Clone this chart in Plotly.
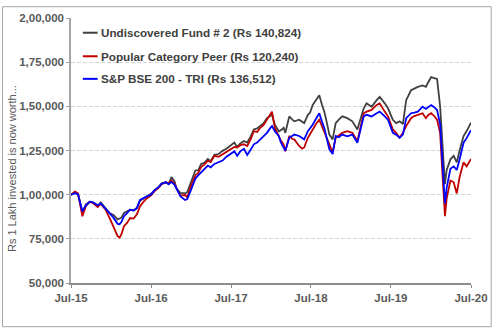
import plotly.graph_objects as go

# Observation dates (shared by all three series)
dates = [
    "2015-07-01", "2015-07-19", "2015-08-02", "2015-08-17", "2015-08-22", "2015-09-07",
    "2015-09-25", "2015-10-12", "2015-10-31", "2015-11-14", "2015-12-06", "2015-12-24",
    "2016-01-11", "2016-01-30", "2016-02-08", "2016-02-16", "2016-02-28", "2016-03-13",
    "2016-03-27", "2016-04-12", "2016-04-27", "2016-05-11", "2016-05-24", "2016-06-12",
    "2016-06-30", "2016-07-17", "2016-08-05", "2016-08-18", "2016-09-06", "2016-09-19",
    "2016-10-02", "2016-10-16", "2016-10-25", "2016-11-12", "2016-12-03", "2016-12-13",
    "2016-12-27", "2017-01-19", "2017-02-02", "2017-02-14", "2017-03-01", "2017-03-17",
    "2017-03-30", "2017-04-16", "2017-05-05", "2017-05-23", "2017-06-10", "2017-06-28",
    "2017-07-16", "2017-07-29", "2017-08-12", "2017-08-29", "2017-09-13", "2017-09-29",
    "2017-10-13", "2017-10-28", "2017-11-11", "2017-11-27", "2017-12-12", "2017-12-26",
    "2018-01-04", "2018-01-17", "2018-02-04", "2018-02-14", "2018-02-26", "2018-03-06",
    "2018-03-24", "2018-04-07", "2018-04-16", "2018-05-08", "2018-05-22", "2018-05-31",
    "2018-06-17", "2018-06-27", "2018-07-09", "2018-07-24", "2018-08-08", "2018-08-20",
    "2018-08-31", "2018-09-12", "2018-09-23", "2018-10-08", "2018-10-22", "2018-11-05",
    "2018-11-21", "2018-12-14", "2019-01-06", "2019-01-29", "2019-02-12", "2019-02-27",
    "2019-03-12", "2019-04-04", "2019-04-27", "2019-05-11", "2019-06-03", "2019-06-18",
    "2019-07-10", "2019-07-25", "2019-08-10", "2019-08-25", "2019-09-09", "2019-10-01",
    "2019-10-16", "2019-11-01", "2019-11-23", "2019-12-08", "2019-12-18", "2020-01-01",
    "2020-01-15", "2020-01-28", "2020-02-11", "2020-02-20", "2020-02-29", "2020-03-04",
    "2020-03-12", "2020-03-29", "2020-04-13", "2020-04-27", "2020-05-10", "2020-05-28",
    "2020-06-11", "2020-07-01",
]

# Value of Rs 1 lakh invested
fund = [
    100000, 101000, 100500, 93000, 90000, 94500, 96000, 95500, 93500, 95600, 92500, 89600,
    88500, 86000, 86500, 87000, 89600, 90500, 91500, 91000, 92400, 96500, 97500, 99000,
    100500, 102600, 104400, 106300, 107000, 106000, 110000, 107500, 103500, 101000, 100700, 101500,
    106300, 113700, 113900, 117400, 118000, 120200, 119000, 122500, 123000, 124800, 126000, 128000,
    129500, 127000, 129000, 130400, 129500, 133000, 136900, 137500, 138800, 140500, 143300, 144500,
    145200, 139600, 135900, 136500, 137800, 135000, 144300, 142500, 141500, 142400, 141000, 140500,
    145200, 146500, 150800, 153500, 156300, 151000, 147000, 140500, 134000, 131300, 140500, 142500,
    144300, 143300, 141500, 136900, 142400, 148900, 151700, 149800, 153500, 155400, 151700, 148900,
    142400, 140500, 141500, 140000, 153500, 159100, 160000, 161000, 161800, 161000, 163500, 166500,
    166000, 165500, 150000, 130000, 112000, 106000, 114000, 120000, 122000, 118300, 125000, 133200,
    136000, 140824,
]

peer = [
    100000, 101700, 100800, 91000, 87800, 93500, 96000, 95000, 93000, 94800, 91500, 86800,
    82000, 76500, 75700, 77500, 82200, 84000, 86800, 86500, 88900, 93300, 95500, 98000,
    99500, 102000, 104000, 106000, 107000, 106500, 108000, 106000, 103500, 99500, 99800, 98500,
    104000, 110900, 112500, 115600, 117000, 119300, 118500, 122000, 121500, 123000, 124500, 125500,
    127000, 126700, 128000, 128500, 127500, 131500, 135900, 135500, 137800, 139500, 142400, 145000,
    147000, 137800, 133200, 130500, 128500, 124500, 133200, 131500, 131300, 127600, 126000, 126700,
    132200, 134500, 136900, 140000, 142400, 139000, 135900, 131500, 128500, 123900, 132200, 133500,
    135000, 135900, 135000, 130400, 138800, 146100, 147000, 148000, 150800, 151700, 147000, 144300,
    136900, 135000, 132200, 135000, 138800, 143300, 144500, 145200, 146100, 143300, 145000, 146100,
    144500, 142400, 135000, 115000, 95000, 87800, 98000, 108000, 107000, 100700, 110000, 118300,
    116000, 120240,
]

bse200 = [
    100000, 100800, 100200, 92000, 90600, 94000, 96000, 95500, 94000, 95000, 92000, 89000,
    87000, 83500, 83300, 84500, 87800, 89500, 91500, 91000, 92400, 97000, 98000, 99000,
    100000, 102600, 104400, 106300, 107000, 106000, 107200, 105500, 103500, 99000, 97000, 97500,
    101700, 109000, 111000, 112800, 114500, 116500, 115500, 117400, 118500, 119300, 121500, 123000,
    124500, 122000, 124500, 126000, 122500, 125500, 128500, 129500, 131300, 133000, 135000, 137500,
    138800, 135900, 133200, 129500, 126700, 124800, 132200, 133500, 134000, 133200, 132000, 131300,
    135900, 137500, 139600, 143000, 146100, 141500, 137800, 131500, 125700, 123000, 133200, 132500,
    134000, 133000, 134000, 129400, 136900, 144300, 145200, 144300, 146100, 147000, 144300, 142400,
    135000, 134000, 132200, 134000, 143300, 146100, 146500, 147000, 149800, 148500, 149500, 150700,
    149500, 147900, 140000, 120000, 100000, 95000, 104000, 114600, 116000, 114000, 120000, 129400,
    132000, 136512,
]

y_ticks = [50000, 75000, 100000, 125000, 150000, 175000, 200000]


def indian_format(n):
    """Group digits the Indian way: 2,00,000 / 75,000."""
    s = str(int(n))
    if len(s) <= 3:
        return s
    head, tail = s[:-3], s[-3:]
    groups = []
    while len(head) > 2:
        groups.insert(0, head[-2:])
        head = head[:-2]
    if head:
        groups.insert(0, head)
    return ",".join(groups) + "," + tail


series = [
    (f"Undiscovered Fund # 2 (Rs {fund[-1]:,})", fund, "#404040"),
    (f"Popular Category Peer (Rs {peer[-1]:,})", peer, "#c00000"),
    (f"S&P BSE 200 - TRI (Rs {bse200[-1]:,})", bse200, "#0000ff"),
]

fig = go.Figure()
for name, values, color in series:
    fig.add_trace(go.Scatter(
        x=dates, y=values, name=name, mode="lines",
        line=dict(color=color, width=1.8),
        showlegend=False,
    ))

# Plot-area geometry in pixels (used to place the hand-built legend and frame)
W, H = 500, 330
L, R, T, B = 71, 23, 13, 47
pw, ph = W - L - R, H - T - B


def px_x(px):
    return (px - L) / pw


def px_y(py):
    return (H - B - py) / ph


# Legend: short line sample + bold label per series
legend_rows = [28, 52, 75]
for (name, _, color), row in zip(series, legend_rows):
    fig.add_shape(type="line", xref="paper", yref="paper",
                  x0=px_x(83), x1=px_x(98), y0=px_y(row), y1=px_y(row),
                  line=dict(color=color, width=2))
    fig.add_annotation(xref="paper", yref="paper", x=px_x(99), y=px_y(row),
                       xanchor="left", yanchor="middle", showarrow=False,
                       text=name, font=dict(family="Liberation Sans", size=11.7,
                                            color="#404040", weight="bold"))

# Y-axis title
fig.add_annotation(xref="paper", yref="paper", x=px_x(11), y=px_y(166),
                   xanchor="center", yanchor="middle", showarrow=False,
                   textangle=-90, text="Rs 1 Lakh invested is now worth...",
                   font=dict(family="Liberation Sans", size=11, color="#595959"))

# Outer chart frame
fig.add_shape(type="rect", xref="paper", yref="paper",
              x0=px_x(1.5), x1=px_x(497.5), y0=px_y(327.5), y1=px_y(1.5),
              line=dict(color="#a6a6a6", width=1), layer="above")

tick_font = dict(family="Liberation Sans", size=11.5, color="#595959", weight="bold")

fig.update_layout(
    width=W, height=H,
    margin=dict(l=L, r=R, t=T, b=B, pad=0),
    paper_bgcolor="white", plot_bgcolor="white",
    xaxis=dict(
        type="date", range=["2015-07-01", "2020-07-01"],
        tick0="2015-07-01", dtick="M12", tickformat="%b-%y",
        showgrid=False, zeroline=False,
        showline=True, linecolor="#8c8c8c", linewidth=1.5,
        ticks="outside", ticklen=3, tickcolor="#8c8c8c",
        tickfont=tick_font,
    ),
    yaxis=dict(
        range=[50000, 200000],
        tickvals=y_ticks, ticktext=[indian_format(v) for v in y_ticks],
        showgrid=True, gridcolor="#d4d4d4", gridwidth=1, griddash="4px,2px",
        zeroline=False,
        showline=True, linecolor="#a6a6a6", linewidth=1.5,
        ticks="outside", ticklen=3, tickcolor="#a6a6a6",
        tickfont=tick_font,
    ),
)

fig.write_html("out.html")
